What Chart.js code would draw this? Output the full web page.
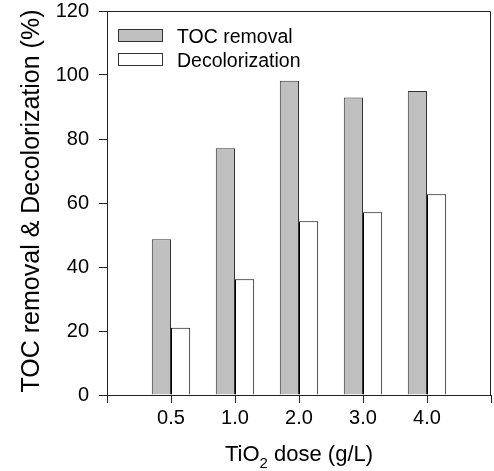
<!DOCTYPE html>
<html>
<head>
<meta charset="utf-8">
<script src="https://cdn.jsdelivr.net/npm/chart.js@4"></script>
<style>
  html, body { margin: 0; padding: 0; background: #fff; }
  #wrap { width: 494px; height: 471px; }
</style>
</head>
<body>
<div id="wrap"><canvas id="chart" width="494" height="471"></canvas></div>
<script>
// data
const doses = ['0.5', '1.0', '2.0', '3.0', '4.0'];
const tocRemoval = [48.7, 77.1, 98.2, 93.0, 95.0];
const decolorization = [21.0, 36.2, 54.3, 57.1, 62.7];
const yTicks = [0, 20, 40, 60, 80, 100, 120];

// empty slot on each side, like the original axis
const labels = [''].concat(doses, ['']);
const pad = arr => [null].concat(arr, [null]);

const FONT = 'Arial, "Liberation Sans", sans-serif';
const AXIS = '#222';

// frame, inside legend and the axis titles
const decorPlugin = {
  id: 'decor',
  afterDraw(chart) {
    const ctx = chart.ctx;
    const a = chart.chartArea;
    ctx.save();
    ctx.strokeStyle = AXIS;
    ctx.lineWidth = 1;
    ctx.beginPath();
    ctx.moveTo(a.left, a.top + 0.5);
    ctx.lineTo(a.right - 0.5, a.top + 0.5);
    ctx.lineTo(a.right - 0.5, a.bottom);
    ctx.stroke();

    // legend
    ctx.font = '19.5px ' + FONT;
    ctx.textBaseline = 'alphabetic';
    chart.data.datasets.forEach((ds, i) => {
      const y = a.top + 19 + i * 24;
      ctx.fillStyle = ds.backgroundColor;
      ctx.fillRect(a.left + 11.5, y - 0.5, 44, 12);
      ctx.strokeStyle = '#333';
      ctx.strokeRect(a.left + 11.5, y - 0.5, 44, 12);
      ctx.fillStyle = '#000';
      ctx.fillText(ds.label, a.left + 70, y + 13);
    });

    // y title
    ctx.save();
    ctx.translate(39, 201);
    ctx.rotate(-Math.PI / 2);
    ctx.font = '25px ' + FONT;
    ctx.textAlign = 'center';
    ctx.textBaseline = 'alphabetic';
    ctx.fillText('TOC removal & Decolorization (%)', 0, 0);
    ctx.restore();

    // x title with subscript
    const big = '22px ' + FONT, small = '15px ' + FONT;
    const parts = [['TiO', big, 0], ['2', small, 7], [' dose (g/L)', big, 0]];
    let w = 0;
    parts.forEach(p => { ctx.font = p[1]; w += ctx.measureText(p[0]).width; });
    let x = (a.left + a.right) / 2 - w / 2;
    const by = 461;
    ctx.textAlign = 'left';
    parts.forEach(p => {
      ctx.font = p[1];
      ctx.fillText(p[0], x, by + p[2]);
      x += ctx.measureText(p[0]).width;
    });
    ctx.restore();
  }
};

new Chart(document.getElementById('chart'), {
  type: 'bar',
  data: {
    labels: labels,
    datasets: [
      {
        label: 'TOC removal',
        data: pad(tocRemoval),
        backgroundColor: '#c0c0c0',
        borderColor: '#333',
        borderWidth: 1
      },
      {
        label: 'Decolorization',
        data: pad(decolorization),
        backgroundColor: '#ffffff',
        borderColor: '#000',
        borderWidth: 1
      }
    ]
  },
  options: {
    responsive: false,
    animation: false,
    layout: { padding: { left: 0, top: 11, right: 3, bottom: 0 } },
    datasets: { bar: { categoryPercentage: 0.6, barPercentage: 1 } },
    plugins: {
      legend: { display: false },
      tooltip: { enabled: false }
    },
    scales: {
      x: {
        offset: false,
        grid: { offset: false, drawOnChartArea: false, tickLength: 8, color: AXIS },
        border: { color: AXIS, width: 1 },
        ticks: { color: '#000', font: { size: 20, family: FONT }, padding: 3, autoSkip: false, maxRotation: 0 },
        afterFit: s => { s.height = 76; s.paddingLeft = 0; s.paddingRight = 0; }
      },
      y: {
        min: 0,
        max: 120,
        afterBuildTicks: s => { s.ticks = yTicks.map(v => ({ value: v })); },
        grid: { drawOnChartArea: false, tickLength: 8, color: AXIS },
        border: { color: AXIS, width: 1 },
        ticks: { color: '#000', font: { size: 20, family: FONT }, padding: 10 },
        afterFit: s => { s.width = 107; s.paddingTop = 0; s.paddingBottom = 0; }
      }
    }
  },
  plugins: [decorPlugin]
});
</script>
</body>
</html>
